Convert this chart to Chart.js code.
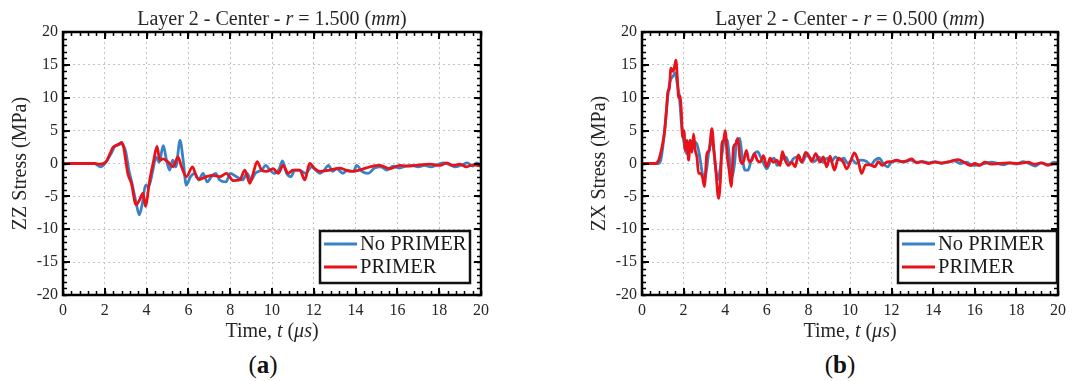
<!DOCTYPE html>
<html>
<head>
<meta charset="utf-8">
<script src="https://cdn.jsdelivr.net/npm/chart.js@4.4.1/dist/chart.umd.min.js"></script>
<style>
  body { margin: 0; background: #fff; width: 1091px; height: 381px; position: relative; overflow: hidden; font-family: 'Liberation Serif', serif; }
  .wrap { position: absolute; top: 0; height: 350px; }
  #wrapA { left: 0; width: 545px; }
  #wrapB { left: 545px; width: 546px; }
  .cap { position: absolute; top: 350px; font-size: 25px; color: #111; transform: translateX(-50%); line-height: 30px; }
</style>
</head>
<body>
<div class="wrap" id="wrapA"><canvas id="chartA"></canvas></div>
<div class="wrap" id="wrapB"><canvas id="chartB"></canvas></div>
<div class="cap" style="left:263px">(<b>a</b>)</div>
<div class="cap" style="left:840px">(<b>b</b>)</div>
<script>
/*********** DATA ***********/
// (a) ZZ stress, r = 1.500 mm
const timeA_noPrimer = [0,1.5,1.8,2.0,2.3,2.5,2.8,3.0,3.15,3.3,3.5,3.65,3.8,3.95,4.1,4.3,4.45,4.6,4.8,4.95,5.1,5.25,5.4,5.6,5.75,5.9,6.1,6.3,6.5,6.7,6.9,7.1,7.3,7.5,7.8,8.0,8.3,8.6,8.8,9.0,9.2,9.5,9.7,9.9,10.1,10.35,10.5,10.7,10.9,11.1,11.3,11.6,11.9,12.1,12.3,12.5,12.7,12.9,13.1,13.4,13.6,13.9,14.05,14.3,14.6,14.9,15.2,15.5,15.8,16.1,16.4,16.7,17.0,17.3,17.6,17.9,18.2,18.5,18.8,19.1,19.35,19.6,19.8,20];
const stressA_noPrimer = [0,0,-0.5,0,1.5,2.7,3.0,1.8,-1.0,-3,-6,-7.8,-6.0,-3.3,-3.5,-1,1.0,0.2,2.7,0.5,-1.0,0.5,-0.5,3.5,0.5,-3.3,-2.0,-1.5,-2.5,-1.5,-2.8,-2.0,-1.5,-2.5,-2.8,-1.5,-2.0,-2.5,-1.5,-2.5,-1.5,-1.0,-0.3,-1.0,-1.5,-0.8,0.4,-1.5,-2.0,-1.0,-1.0,-1.5,-0.5,-1.0,-1.5,-1.0,-0.3,-1.2,-0.8,-1.5,-1.0,-1.2,-0.3,-1.2,-1.5,-0.7,-0.5,-1.0,-0.4,-0.7,-0.4,-0.3,-0.5,-0.3,-0.5,-0.2,0.1,-0.2,-0.5,-0.2,0.1,-0.4,0.1,-0.3];
const timeA_primer = [0,1.5,1.76,2.07,2.25,2.4,2.63,2.8,2.9,3.0,3.1,3.27,3.5,3.67,3.83,3.94,4.15,4.34,4.5,4.63,4.79,5.03,5.27,5.5,5.67,5.9,6.2,6.38,6.54,6.86,7.18,7.5,7.82,8.14,8.46,8.7,8.94,9.1,9.29,9.5,9.74,10.06,10.3,10.53,10.77,11.0,11.33,11.57,11.8,12.05,12.3,12.77,13.25,13.73,14.2,14.68,15.16,15.64,16.12,16.6,17.08,17.56,18.04,18.36,18.67,18.99,19.3,19.63,20];
const stressA_primer = [0,0,-0.1,0.3,1.5,2.5,2.8,3.2,2.5,0.5,-1.5,-3,-6.3,-5.5,-4.5,-6.5,-2.5,0.5,2.6,0.5,0.7,0.2,-0.5,1.0,-0.5,-2.0,-0.5,-2.0,-2.4,-2.0,-1.8,-2.0,-1.5,-2.6,-2.5,-1.0,-3.0,-1.5,0.3,-1,-1.2,-0.8,-1.5,-0.3,-1.5,-1.0,-1.0,-2.5,0,-0.8,-1.2,-1.0,-0.7,-1.2,-1.0,-0.5,-0.3,-0.8,-0.3,-0.4,-0.2,-0.1,-0.3,0.1,-0.3,-0.1,-0.5,-0.2,-0.4];

// (b) ZX stress, r = 0.500 mm
const timeB_noPrimer = [0,0.8,0.9,1.0,1.15,1.25,1.35,1.5,1.6,1.7,1.8,1.9,2.0,2.15,2.3,2.45,2.6,2.75,2.9,3.0,3.1,3.2,3.35,3.45,3.55,3.65,3.75,3.85,4.0,4.1,4.2,4.3,4.45,4.55,4.7,4.8,4.95,5.1,5.25,5.4,5.55,5.7,5.85,6.0,6.2,6.35,6.5,6.7,6.9,7.1,7.3,7.5,7.7,7.9,8.1,8.3,8.5,8.7,8.9,9.1,9.3,9.5,9.7,9.9,10.1,10.3,10.5,10.8,11.0,11.2,11.4,11.6,11.8,12.0,12.3,12.6,12.9,13.2,13.5,13.8,14.1,14.4,14.7,15.0,15.3,15.6,15.9,16.2,16.5,16.8,17.1,17.4,17.7,18.0,18.3,18.6,18.9,19.2,19.5,19.8,20];
const stressB_noPrimer = [0,0,0.5,2.5,7,10.5,12.5,13.3,13.8,12,10,6,3.5,1.5,3.5,3.0,3.2,1.5,-1.5,-2.5,-1,1.5,3.5,2,-1,-2.5,-1,1.5,3.8,3.5,1,-2.3,0,3.5,3.8,1.5,-1,-1.0,0.5,1.5,1.8,1.0,0,-0.8,0.5,0.8,-0.3,0.5,1.0,0,0.8,1.0,0.2,1.2,0.8,0.3,1.0,0.2,0.8,0.3,1.0,0.5,0.8,0.0,0.6,0.0,0.5,0.3,-0.2,0.5,0.8,0.0,-0.5,0.2,0.4,0.2,0.5,0.2,0.3,0.1,0.3,0.0,0.2,0.4,0.0,0.2,-0.3,-0.2,0.0,0.2,0.0,-0.2,0.1,-0.1,0.3,0.0,-0.4,0.1,-0.3,0.2,0.1];
const timeB_primer = [0,0.64,0.8,0.96,1.09,1.17,1.25,1.31,1.39,1.49,1.57,1.63,1.7,1.76,1.82,1.89,1.95,2.02,2.08,2.16,2.24,2.32,2.4,2.48,2.56,2.64,2.72,2.8,2.9,3.0,3.12,3.23,3.36,3.46,3.55,3.68,3.78,3.84,3.92,4.0,4.1,4.19,4.29,4.4,4.51,4.61,4.7,4.8,4.9,5.02,5.15,5.28,5.41,5.54,5.68,5.84,6.0,6.16,6.32,6.48,6.64,6.75,6.88,7.04,7.2,7.36,7.52,7.68,7.87,8.0,8.16,8.35,8.56,8.72,8.88,9.04,9.25,9.44,9.68,9.84,10.05,10.21,10.4,10.56,10.75,10.96,11.2,11.36,11.55,11.76,12.0,12.24,12.48,12.72,12.96,13.2,13.44,13.76,14.08,14.4,14.8,15.2,15.52,15.76,16.0,16.24,16.48,16.8,17.12,17.6,18.08,18.56,18.88,19.2,19.52,20];
const stressB_primer = [0,0,0.5,2.5,5,8,11,11.3,14.5,14,14.8,15.7,13,10,10.3,8,4,5,2,3.5,0.5,3.5,1.7,4.5,2,1,-1.5,-1.5,-2,-3.5,1.5,2,5.3,2,-1,-5.3,-2,3.0,3.5,5,1,-1,-3.5,2.5,3,3.8,1,0,0.5,2.0,0.3,0.5,1.5,0.5,0.2,1.2,-0.5,0.8,0.2,0.5,-0.3,1.8,0.5,-0.3,0.2,-0.5,1.3,0.2,1.7,1.3,0.3,1.5,0.2,1.0,-0.5,1.1,-1.0,0.8,0.2,-0.8,0.5,1.6,0.3,-1.5,-0.2,-0.2,-0.5,0.3,-0.3,0.2,0.3,0.5,0.3,0.4,0.7,0.1,0.3,0.0,0.2,0.1,0.3,0.6,0.1,-0.3,0.0,-0.3,0.2,-0.1,0,0.1,0.0,0.2,-0.1,0.1,-0.2,0.1];

const seriesNames = ['No PRIMER', 'PRIMER'];
const seriesColors = ['#3a82c6', '#e8121a'];

const TEXT = '#262626';
const SERIF = '"Liberation Serif", serif';

function pts(ts, vs) {
    return ts.map((t, i) => ({ x: t, y: vs[i] }));
}

// draw a line of text where some pieces are italic
function drawRich(ctx, parts, cx, cy, size) {
    const fontOf = it => (it ? 'italic ' : '') + size + 'px ' + SERIF;
    let total = 0;
    parts.forEach(p => { ctx.font = fontOf(p[1]); total += ctx.measureText(p[0]).width; });
    let xPos = cx - total / 2;
    ctx.textAlign = 'left';
    ctx.textBaseline = 'middle';
    ctx.fillStyle = TEXT;
    parts.forEach(p => {
        ctx.font = fontOf(p[1]);
        ctx.fillText(p[0], xPos, cy);
        xPos += ctx.measureText(p[0]).width;
    });
}

/*********** FRAME, MINOR TICKS, TITLES, LEGEND ***********/
const decor = {
    id: 'decor',
    afterDraw(chart, args, opts) {
        const { ctx, chartArea: a, scales: { x, y } } = chart;
        ctx.save();
        ctx.strokeStyle = '#000';

        // minor ticks (inward, all four sides)
        ctx.lineWidth = 1.5;
        ctx.beginPath();
        for (let v = x.min; v <= x.max + 1e-9; v += 0.4) {
            const px = Math.round(x.getPixelForValue(v)) + 0.5;
            ctx.moveTo(px, a.bottom); ctx.lineTo(px, a.bottom - 4);
            ctx.moveTo(px, a.top); ctx.lineTo(px, a.top + 4);
        }
        for (let v = y.min; v <= y.max + 1e-9; v += 1) {
            const py = Math.round(y.getPixelForValue(v)) + 0.5;
            ctx.moveTo(a.left, py); ctx.lineTo(a.left + 4, py);
            ctx.moveTo(a.right, py); ctx.lineTo(a.right - 4, py);
        }
        ctx.stroke();

        // major ticks
        ctx.lineWidth = 2;
        ctx.beginPath();
        x.ticks.forEach(t => {
            const px = Math.round(x.getPixelForValue(t.value));
            ctx.moveTo(px, a.bottom); ctx.lineTo(px, a.bottom - 7);
            ctx.moveTo(px, a.top); ctx.lineTo(px, a.top + 7);
        });
        y.ticks.forEach(t => {
            const py = Math.round(y.getPixelForValue(t.value));
            ctx.moveTo(a.left, py); ctx.lineTo(a.left + 7, py);
            ctx.moveTo(a.right, py); ctx.lineTo(a.right - 7, py);
        });
        ctx.stroke();

        // box
        ctx.lineWidth = 2.5;
        ctx.strokeRect(a.left, a.top, a.right - a.left, a.bottom - a.top);

        // legend box
        const lg = opts.legend;
        const lx = a.right - lg.right - lg.w;
        const ly = a.bottom - lg.bottom - lg.h;
        ctx.fillStyle = '#fff';
        ctx.fillRect(lx, ly, lg.w, lg.h);
        ctx.lineWidth = 2.5;
        ctx.strokeStyle = '#111';
        ctx.strokeRect(lx, ly, lg.w, lg.h);
        seriesNames.forEach((name, i) => {
            const rowY = ly + 13 + i * 23;
            ctx.strokeStyle = seriesColors[i];
            ctx.lineWidth = 2.8;
            ctx.beginPath();
            ctx.moveTo(lx + 4, rowY);
            ctx.lineTo(lx + 37, rowY);
            ctx.stroke();
            ctx.fillStyle = '#1a1a1a';
            ctx.font = '20.5px ' + SERIF;
            ctx.textAlign = 'left';
            ctx.textBaseline = 'middle';
            ctx.fillText(name, lx + 40, rowY + 1);
        });

        // titles
        const cx = (a.left + a.right) / 2;
        drawRich(ctx, opts.title, cx, 20, 20);
        drawRich(ctx, opts.xTitle, cx, 332, 20);
        ctx.restore();
    }
};

function makeChart(canvasId, noPrimerPts, primerPts, yLabel, yWidth, yTitlePad, padRight, title, legend) {
    const ctx = document.getElementById(canvasId).getContext('2d');
    return new Chart(ctx, {
        type: 'line',
        data: {
            datasets: [
                { label: seriesNames[0], data: noPrimerPts, borderColor: seriesColors[0], borderWidth: 2.8, pointRadius: 0, cubicInterpolationMode: 'monotone', order: 1 },
                { label: seriesNames[1], data: primerPts, borderColor: seriesColors[1], borderWidth: 2.8, pointRadius: 0, cubicInterpolationMode: 'monotone', order: 0 }
            ]
        },
        options: {
            responsive: true,
            maintainAspectRatio: false,
            animation: false,
            layout: { padding: { left: 0, right: padRight, top: 32, bottom: 0 } },
            plugins: {
                legend: { display: false },
                tooltip: { enabled: false },
                decor: {
                    title: title,
                    xTitle: [['Time, ', false], ['t', true], [' (', false], ['\u03bcs', true], [')', false]],
                    legend: legend
                }
            },
            scales: {
                x: {
                    type: 'linear', min: 0, max: 20,
                    ticks: { stepSize: 2, color: TEXT, padding: 6, font: { family: SERIF, size: 16 } },
                    grid: { color: '#c4c4c4', lineWidth: 1, drawTicks: false },
                    border: { display: false, dash: [2, 3] },
                    afterFit: s => { s.height = 55; }
                },
                y: {
                    min: -20, max: 20,
                    ticks: { stepSize: 5, color: TEXT, padding: 5, font: { family: SERIF, size: 16 } },
                    grid: { color: '#c4c4c4', lineWidth: 1, drawTicks: false },
                    border: { display: false, dash: [2, 3] },
                    title: { display: true, text: yLabel, color: TEXT, font: { family: SERIF, size: 20 }, padding: { top: yTitlePad, bottom: 0 } },
                    afterFit: s => { s.width = yWidth; }
                }
            }
        },
        plugins: [decor]
    });
}

makeChart('chartA', pts(timeA_noPrimer, stressA_noPrimer), pts(timeA_primer, stressA_primer),
    'ZZ Stress (MPa)', 63, 9, 64,
    [['Layer 2 - Center - ', false], ['r', true], [' = 1.500 (', false], ['mm', true], [')', false]],
    { right: 11, bottom: 12, w: 150, h: 52 });

makeChart('chartB', pts(timeB_noPrimer, stressB_noPrimer), pts(timeB_primer, stressB_primer),
    'ZX Stress (MPa)', 97, 43, 33,
    [['Layer 2 - Center - ', false], ['r', true], [' = 0.500 (', false], ['mm', true], [')', false]],
    { right: 1, bottom: 12, w: 159, h: 52 });
</script>
</body>
</html>
